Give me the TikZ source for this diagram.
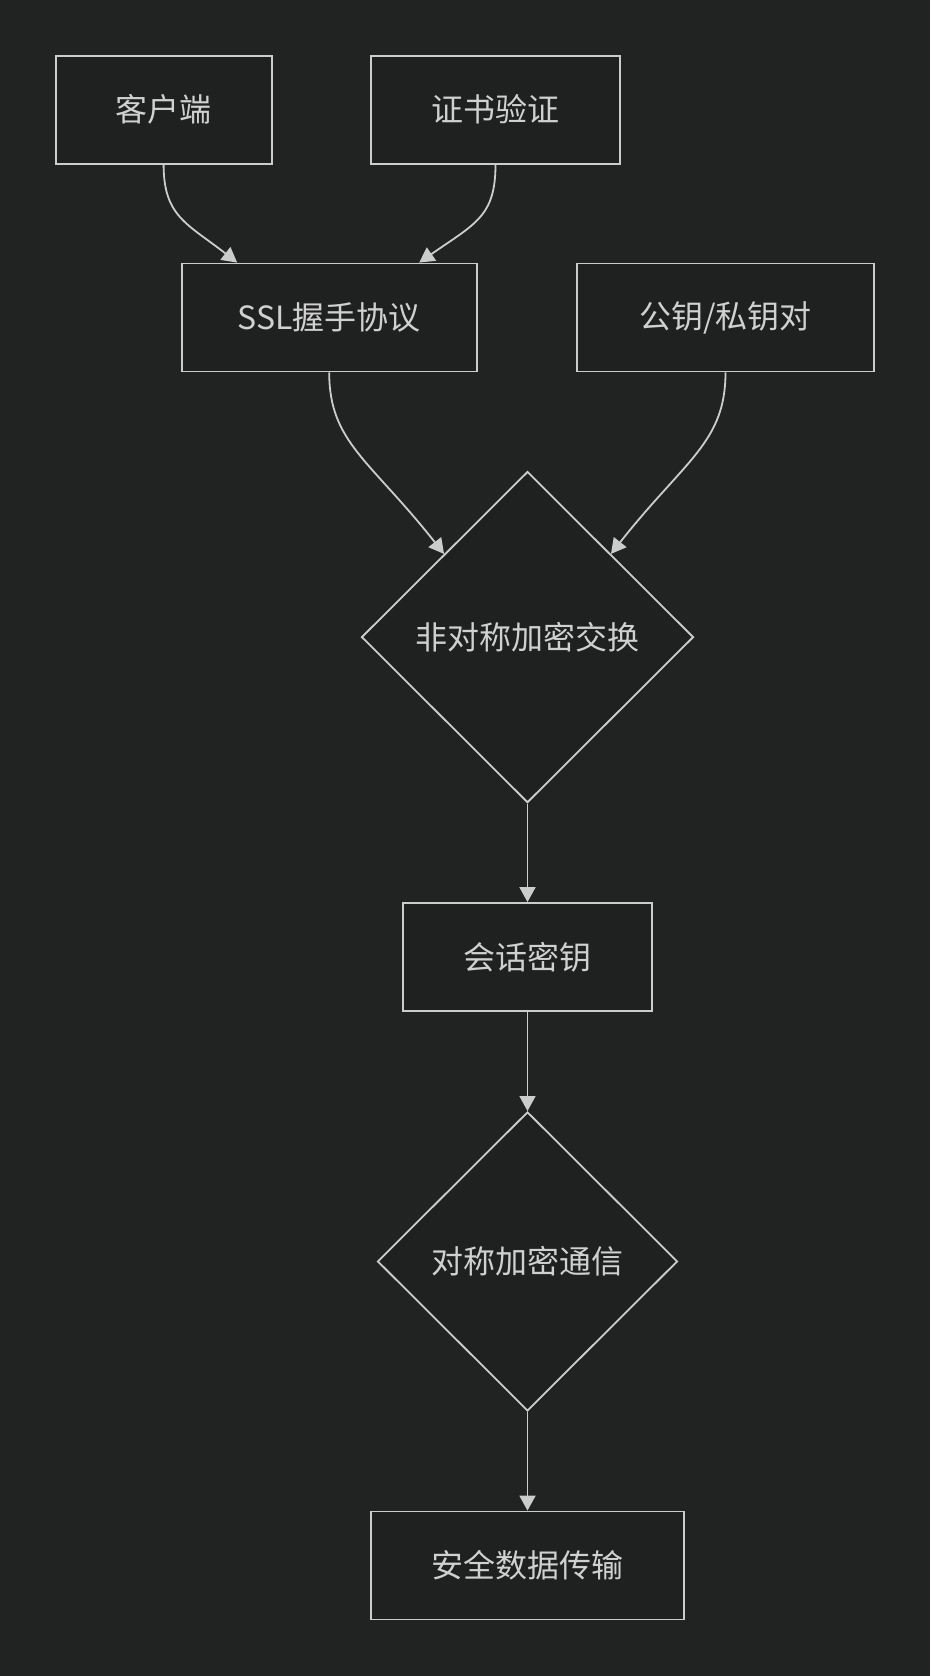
\documentclass[tikz,border=0pt]{standalone}
\usepackage{fontspec}
\newfontfamily\cjk{Noto Sans CJK SC}
\usetikzlibrary{shapes.geometric,arrows.meta}
\definecolor{bg}{HTML}{212222}
\definecolor{fillc}{HTML}{1F2020}
\definecolor{linec}{HTML}{CCCCCC}
\definecolor{textc}{HTML}{D0D0D0}
\tikzset{
  box/.style={draw=linec, fill=fillc, line width=1.8pt, minimum height=108pt, inner sep=0pt,
    text=textc, font=\cjk\fontsize{32}{38}\selectfont},
  dia/.style={diamond, draw=linec, fill=fillc, line width=1.8pt, inner sep=0pt,
    text=textc, font=\cjk\fontsize{32}{38}\selectfont},
  conn/.style={draw=linec, line width=1.8pt, -{Triangle[width=16pt,length=15pt]}}
}
\begin{document}
\begin{tikzpicture}[x=1pt,y=-1pt]
\fill[bg] (0,0) rectangle (930,1676);
\useasboundingbox (0,0) rectangle (930,1676);
\node[box, minimum width=216pt] (client) at (163.6,109.6) {客户端};
\node[box, minimum width=249pt] (cert) at (495.5,109.6) {证书验证};
\node[box, minimum width=295pt] (ssl) at (329.2,317.5) {SSL握手协议};
\node[box, minimum width=297pt] (keys) at (725.5,317.5) {公钥/私钥对};
\node[dia, minimum width=332pt, minimum height=331pt] (asym) at (527.5,637.1) {非对称加密交换};
\node[box, minimum width=249pt] (sess) at (527.5,957) {会话密钥};
\node[dia, minimum width=300pt, minimum height=299pt] (sym) at (527.5,1261.4) {对称加密通信};
\node[box, minimum width=313pt] (data) at (527.5,1565.5) {安全数据传输};
\draw[conn] (client.south) .. controls +(0,52) and +(-50,-39) .. ([xshift=-92pt]ssl.north);
\draw[conn] (cert.south) .. controls +(0,52) and +(56,-39) .. ([xshift=90pt]ssl.north);
\draw[conn] (ssl.south) .. controls +(0,70) and +(-74,-94) .. (asym.north west);
\draw[conn] (keys.south) .. controls +(0,70) and +(74,-94) .. (asym.north east);
\draw[conn] (asym.south) -- (sess.north);
\draw[conn] (sess.south) -- (sym.north);
\draw[conn] (sym.south) -- (data.north);
\end{tikzpicture}
\end{document}
